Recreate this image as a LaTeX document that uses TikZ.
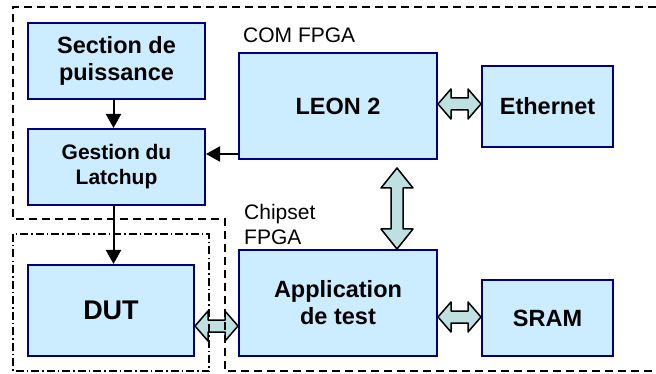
\documentclass[tikz,border=0pt]{standalone}
\usepackage{fontspec}
\setmainfont{Liberation Sans}
\usetikzlibrary{arrows.meta,calc}
\definecolor{boxfill}{RGB}{204,236,255}
\definecolor{boxline}{RGB}{0,0,128}
\definecolor{arrfill}{RGB}{190,224,224}
\newcommand\hdarr[2]{\draw[dblarrow] let \p1=(#1),\p2=(#2) in
 (\x1,\y1) -- (\x1+13pt,\y1+15pt) -- (\x1+13pt,\y1+6pt) -- (\x2-13pt,\y1+6pt) -- (\x2-13pt,\y1+15pt) -- (\x2,\y1) -- (\x2-13pt,\y1-15pt) -- (\x2-13pt,\y1-6pt) -- (\x1+13pt,\y1-6pt) -- (\x1+13pt,\y1-15pt) -- cycle;}
\newcommand\vdarr[2]{\draw[dblarrow] let \p1=(#1),\p2=(#2) in
 (\x1,\y1) -- (\x1+16pt,\y1-20pt) -- (\x1+6pt,\y1-20pt) -- (\x1+6pt,\y2+20pt) -- (\x1+16pt,\y2+20pt) -- (\x1,\y2) -- (\x1-16pt,\y2+20pt) -- (\x1-6pt,\y2+20pt) -- (\x1-6pt,\y1-20pt) -- (\x1-16pt,\y1-20pt) -- cycle;}
\tikzset{
  blk/.style={draw=boxline,fill=boxfill,line width=2pt,align=center,inner sep=0pt,
    font=\fontsize{23.5}{27}\selectfont\bfseries},
  lbl/.style={inner sep=0pt,align=left,font=\fontsize{21}{25}\selectfont},
  arr/.style={line width=2pt,-{Triangle[width=15pt,length=14pt]}},
  dblarrow/.style={draw=black,fill=arrfill,line width=1.5pt,line join=round},
  dashreg/.style={line width=1.6pt,dash pattern=on 8pt off 5pt},
  dotreg/.style={line width=1.6pt,dash pattern=on 8pt off 3pt on 1.5pt off 3pt}
}
\begin{document}
\begin{tikzpicture}[x=1pt,y=-1pt]
\useasboundingbox (0,0) rectangle (656,374);
\node[blk,minimum width=177pt,minimum height=76pt] (sec) at (116.5,61) {Section de\\puissance};
\node[blk,minimum width=177pt,minimum height=76pt,font=\fontsize{21}{25}\selectfont\bfseries] (ges) at (116.5,167) {Gestion du\\Latchup};
\node[blk,minimum width=198pt,minimum height=106pt] (leon) at (338,106) {LEON 2};
\node[blk,minimum width=131pt,minimum height=81pt] (eth) at (547.5,106.5) {Ethernet};
\node[blk,minimum width=166pt,minimum height=91pt,font=\fontsize{27}{31}\selectfont\bfseries] (dut) at (111,310.5) {DUT};
\node[blk,minimum width=198pt,minimum height=106pt] (app) at (338,303) {Application\\de test};
\node[blk,minimum width=131pt,minimum height=76pt] (sram) at (547.5,318) {SRAM};
\node[lbl,anchor=north west] (com) at (243,28) {COM FPGA};
\node[lbl,anchor=north west] (chip) at (244,204) {Chipset\\FPGA};
% arrows
\coordinate (s1) at ($(sec.south)+(-3,0)$);
\coordinate (g1) at ($(ges.south)+(-3,0)$);
\draw[arr] (s1) -- (s1 |- ges.north);
\draw[arr] (g1) -- (g1 |- dut.north);
\coordinate (lg) at ($(leon.south west)+(0,-6)$);
\draw[arr] (lg) -- (lg -| ges.east);
\coordinate (le) at ($(leon.east)+(0,-2)$);
\hdarr{le}{le -| eth.west}
\coordinate (as) at ($(app.east)+(0,14)$);
\hdarr{as}{as -| sram.west}
\coordinate (da) at ($(dut.east)+(0,15.5)$);
\hdarr{da}{da -| app.west}
\coordinate (la) at ($(leon.south)+(59,8)$);
\vdarr{la}{la |- app.north}
% regions
\draw[dashreg] (656,7) -- (13,7) -- (13,219) -- (225,219) -- (225,371) -- (656,371);
\draw[dotreg] (13,234) rectangle (209,371);
\end{tikzpicture}
\end{document}
